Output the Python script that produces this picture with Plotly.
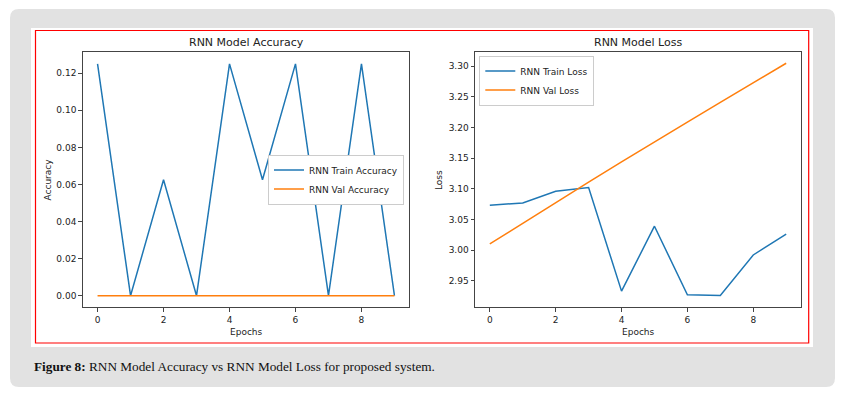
import plotly.graph_objects as go

W, H = 847, 397
OFF = 8  # default page body margin shifts the figure by 8px

epochs = list(range(10))
train_acc = [0.125, 0.0, 0.0625, 0.0, 0.125, 0.0625, 0.125, 0.0, 0.125, 0.0]
val_acc = [0.0] * 10
train_loss = [3.073, 3.077, 3.096, 3.102, 2.933, 3.039, 2.927, 2.926, 2.992, 3.026]
val_loss = [3.010, 3.044, 3.078, 3.111, 3.144, 3.177, 3.209, 3.241, 3.273, 3.305]
acc_ticks = [0.0, 0.02, 0.04, 0.06, 0.08, 0.10, 0.12]
loss_ticks = [2.95, 3.00, 3.05, 3.10, 3.15, 3.20, 3.25, 3.30]
x_ticks = [0, 2, 4, 6, 8]

BLUE = "#1f77b4"
ORANGE = "#ff7f0e"
FONT = "DejaVu Sans"


def px(x):
    return (x - OFF) / W


def py(y):
    return 1 - (y - OFF) / H


def rounded_path(x0, y0, x1, y1, r):
    p = lambda x, y: f"{px(x):.5f},{py(y):.5f}"
    return (f"M {p(x0 + r, y0)} L {p(x1 - r, y0)} Q {p(x1, y0)} {p(x1, y0 + r)} "
            f"L {p(x1, y1 - r)} Q {p(x1, y1)} {p(x1 - r, y1)} "
            f"L {p(x0 + r, y1)} Q {p(x0, y1)} {p(x0, y1 - r)} "
            f"L {p(x0, y0 + r)} Q {p(x0, y0)} {p(x0 + r, y0)} Z")


fig = go.Figure()

fig.add_trace(go.Scatter(x=epochs, y=train_acc, mode="lines", name="RNN Train Accuracy",
                         line=dict(color=BLUE, width=1.5), xaxis="x", yaxis="y", legend="legend"))
fig.add_trace(go.Scatter(x=epochs, y=val_acc, mode="lines", name="RNN Val Accuracy",
                         line=dict(color=ORANGE, width=1.5), xaxis="x", yaxis="y", legend="legend"))
fig.add_trace(go.Scatter(x=epochs, y=train_loss, mode="lines", name="RNN Train Loss",
                         line=dict(color=BLUE, width=1.5), xaxis="x2", yaxis="y2", legend="legend2"))
fig.add_trace(go.Scatter(x=epochs, y=val_loss, mode="lines", name="RNN Val Loss",
                         line=dict(color=ORANGE, width=1.5), xaxis="x2", yaxis="y2", legend="legend2"))

ax_common = dict(showgrid=False, zeroline=False, showline=True, mirror=True,
                 linecolor="#444444", linewidth=1, ticks="outside", ticklen=3.5,
                 tickcolor="#444444", tickfont=dict(family=FONT, size=9, color="#222222"))

yd = [py(307.3), py(52.3)]
fig.update_layout(
    width=W, height=H, margin=dict(l=0, r=0, t=0, b=0),
    paper_bgcolor="white", plot_bgcolor="white", showlegend=True,
    xaxis=dict(domain=[px(82.7), px(409.3)], range=[-0.45, 9.45], tickvals=x_ticks, anchor="y", **ax_common),
    yaxis=dict(domain=yd, range=[-0.00625, 0.13125], tickvals=acc_ticks, tickformat=".2f", anchor="x", **ax_common),
    xaxis2=dict(domain=[px(475), px(801)], range=[-0.45, 9.45], tickvals=x_ticks, anchor="y2", **ax_common),
    yaxis2=dict(domain=yd, range=[2.9066, 3.3229], tickvals=loss_ticks, tickformat=".2f", anchor="x2", **ax_common),
    legend=dict(x=px(404), y=py(179.5), xanchor="right", yanchor="middle", bgcolor="white",
                bordercolor="#cccccc", borderwidth=1, font=dict(family=FONT, size=9, color="#222222"),
                itemwidth=30, tracegroupgap=0),
    legend2=dict(x=px(479.3), y=py(55.5), xanchor="left", yanchor="top", bgcolor="white",
                 bordercolor="#cccccc", borderwidth=1, font=dict(family=FONT, size=9, color="#222222"),
                 itemwidth=30, tracegroupgap=0),
)

shapes = [
    dict(type="path", path=rounded_path(10, 9, 835, 387, 9), xref="paper", yref="paper",
         fillcolor="#e2e2e2", line=dict(width=0), layer="below"),
    dict(type="rect", x0=px(31), x1=px(813), y0=py(347), y1=py(28), xref="paper", yref="paper",
         fillcolor="white", line=dict(width=0), layer="below"),
    dict(type="rect", x0=px(35.5), x1=px(808.7), y0=py(343), y1=py(30.5), xref="paper", yref="paper",
         fillcolor="rgba(0,0,0,0)", line=dict(color="#ff0000", width=1.2), layer="below"),
]
fig.update_layout(shapes=shapes)

ann = []
tfont = dict(family=FONT, size=11, color="#222222")
lfont = dict(family=FONT, size=9, color="#222222")
ann.append(dict(text="RNN Model Accuracy", x=px(246), y=py(43), xref="paper", yref="paper",
                showarrow=False, font=tfont, xanchor="center", yanchor="middle"))
ann.append(dict(text="RNN Model Loss", x=px(638), y=py(43), xref="paper", yref="paper",
                showarrow=False, font=tfont, xanchor="center", yanchor="middle"))
ann.append(dict(text="Epochs", x=px(246), y=py(331.5), xref="paper", yref="paper",
                showarrow=False, font=lfont, xanchor="center", yanchor="middle"))
ann.append(dict(text="Epochs", x=px(638), y=py(331.5), xref="paper", yref="paper",
                showarrow=False, font=lfont, xanchor="center", yanchor="middle"))
ann.append(dict(text="Accuracy", x=px(47.5), y=py(180), xref="paper", yref="paper", textangle=-90,
                showarrow=False, font=lfont, xanchor="center", yanchor="middle"))
ann.append(dict(text="Loss", x=px(439), y=py(180), xref="paper", yref="paper", textangle=-90,
                showarrow=False, font=lfont, xanchor="center", yanchor="middle"))
ann.append(dict(text="<b>Figure 8:</b> RNN Model Accuracy vs RNN Model Loss for proposed system.",
                x=px(32), y=py(366), xref="paper", yref="paper", showarrow=False,
                font=dict(family="Liberation Serif", size=13.25, color="#111111"),
                xanchor="left", yanchor="middle"))
fig.update_layout(annotations=ann)

fig.write_html("out.html")
